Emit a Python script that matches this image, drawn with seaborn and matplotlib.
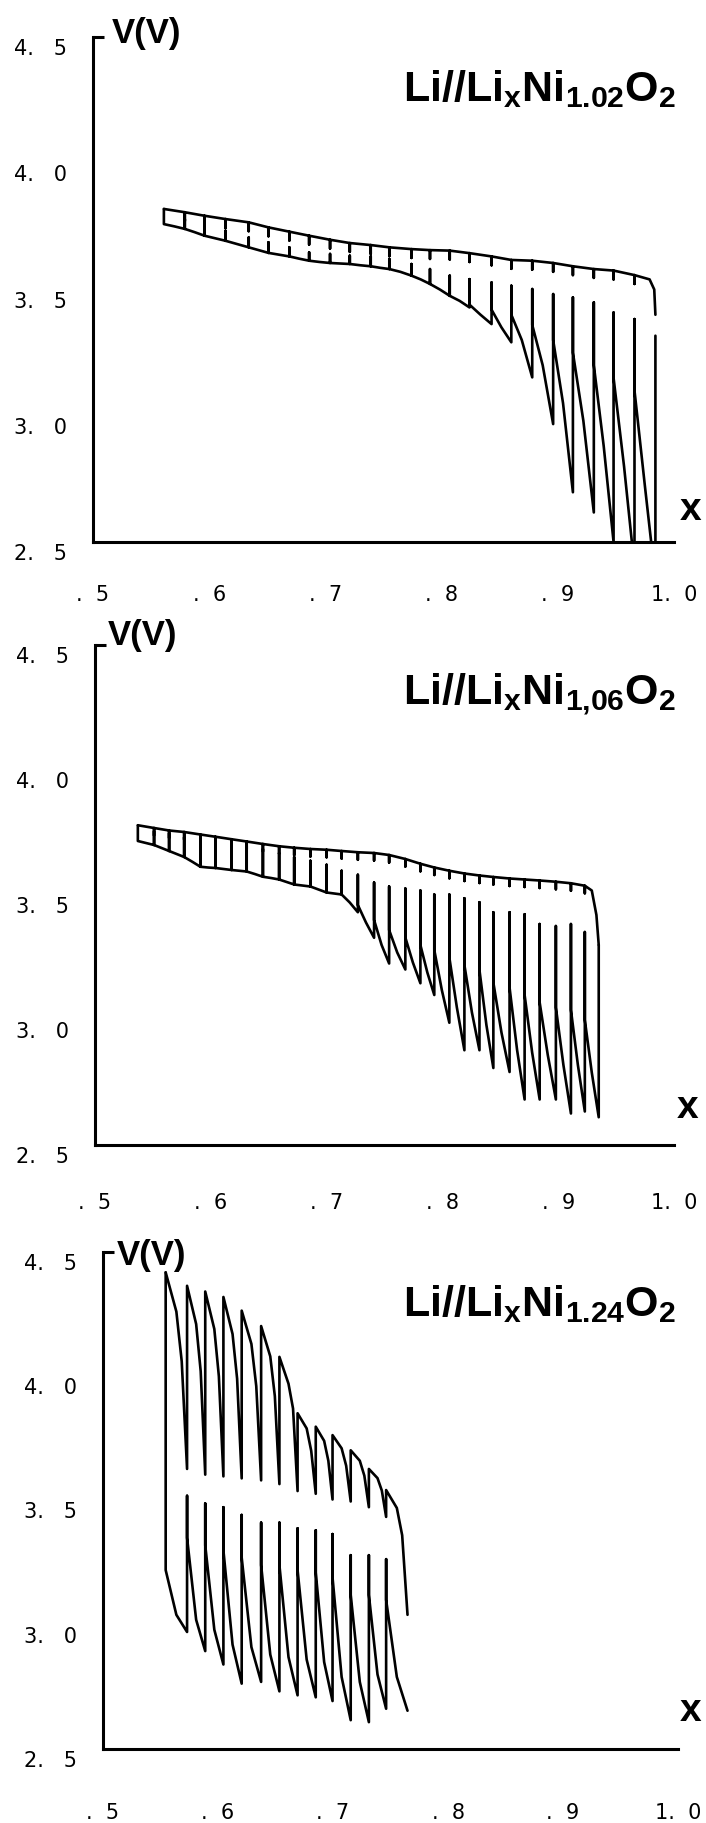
import numpy as np
import pandas as pd
import matplotlib
matplotlib.use("Agg")
import matplotlib.pyplot as plt
import seaborn as sns
from matplotlib.ticker import MultipleLocator, FixedLocator
from matplotlib.transforms import ScaledTranslation

# ---------------- data ----------------
# Panel 1 : Li//LixNi1.02O2
p1_x = [0.561, 0.579, 0.596, 0.614, 0.634, 0.651, 0.669, 0.686, 0.704, 0.721, 0.739, 0.755,
        0.774, 0.790, 0.807, 0.824, 0.843, 0.860, 0.878, 0.896, 0.913, 0.931, 0.948, 0.966, 0.984]
p1_chg_top = [3.819, 3.806, 3.792, 3.779, 3.766, 3.746, 3.729, 3.713, 3.697, 3.684, 3.676, 3.667,
              3.660, 3.656, 3.654, 3.644, 3.631, 3.617, 3.614, 3.605, 3.592, 3.581, 3.575, 3.557]
p1_chg_relax = [3.771, 3.757, 3.744, 3.731, 3.711, 3.694, 3.678, 3.662, 3.649, 3.641, 3.632, 3.625,
                3.621, 3.619, 3.609, 3.596, 3.582, 3.579, 3.570, 3.557, 3.546, 3.540, 3.522]
p1_chg_tail_x = [0.979, 0.983, 0.984]
p1_chg_tail_v = [3.54, 3.50, 3.40]
p1_dis_top = [3.819, 3.779, 3.753, 3.733, 3.706, 3.687, 3.667, 3.647, 3.641, 3.634, 3.631, 3.621,
              3.601, 3.581, 3.555, 3.541, 3.528, 3.515, 3.502, 3.482, 3.469, 3.449, 3.409, 3.383, 3.317]
p1_dis_start = [3.759, 3.740, 3.713, 3.693, 3.667, 3.645, 3.631, 3.614, 3.605, 3.601, 3.592, 3.581,
                3.555, 3.522, 3.475, 3.44, 3.42, 3.40, 3.36, 3.30, 3.25, 3.20, 3.15, 3.10]
p1_dis_mid = [3.750, 3.727, 3.703, 3.680, 3.656, 3.638, 3.622, 3.609, 3.603, 3.596, 3.586, 3.570,
              3.540, 3.500, 3.455, 3.40, 3.35, 3.30, 3.20, 3.05, 2.98, 2.88, 2.80, 2.72]
p1_dis_end = [3.740, 3.713, 3.693, 3.667, 3.645, 3.631, 3.614, 3.605, 3.601, 3.592, 3.581, 3.555,
              3.522, 3.475, 3.429, 3.363, 3.291, 3.152, 2.967, 2.697, 2.617, 2.50, 2.40, 2.35]

# Panel 2 : Li//LixNi1,06O2
p2_x = [0.537, 0.551, 0.564, 0.577, 0.591, 0.604, 0.618, 0.631, 0.645, 0.659, 0.672, 0.686,
        0.700, 0.713, 0.727, 0.741, 0.754, 0.768, 0.781, 0.793, 0.806, 0.819, 0.832, 0.844,
        0.858, 0.871, 0.884, 0.898, 0.911, 0.923, 0.935]
p2_chg_top = [3.779, 3.768, 3.758, 3.752, 3.742, 3.733, 3.723, 3.714, 3.704, 3.695, 3.689, 3.684,
              3.681, 3.676, 3.671, 3.668, 3.660, 3.644, 3.625, 3.610, 3.597, 3.586, 3.578, 3.572,
              3.566, 3.562, 3.558, 3.553, 3.547, 3.537]
p2_chg_relax = [3.738, 3.728, 3.722, 3.712, 3.703, 3.693, 3.684, 3.674, 3.665, 3.659, 3.654,
                3.651, 3.646, 3.641, 3.638, 3.630, 3.614, 3.595, 3.580, 3.567, 3.556, 3.548,
                3.542, 3.536, 3.532, 3.528, 3.523, 3.517, 3.507]
p2_chg_tail_x = [0.929, 0.933, 0.935]
p2_chg_tail_v = [3.518, 3.42, 3.30]
p2_dis_top = [3.779, 3.755, 3.747, 3.731, 3.723, 3.715, 3.704, 3.695, 3.684, 3.668, 3.652, 3.637,
              3.621, 3.597, 3.581, 3.550, 3.534, 3.526, 3.518, 3.502, 3.502, 3.487, 3.471, 3.431,
              3.431, 3.423, 3.384, 3.376, 3.384, 3.352, 3.30]
p2_dis_start = [3.716, 3.700, 3.676, 3.652, 3.613, 3.608, 3.600, 3.594, 3.573, 3.562, 3.542, 3.534,
                3.510, 3.502, 3.46, 3.40, 3.36, 3.33, 3.30, 3.28, 3.25, 3.22, 3.20, 3.15, 3.13,
                3.10, 3.07, 3.05, 3.04, 3.00]
p2_dis_mid = [3.708, 3.688, 3.664, 3.633, 3.610, 3.604, 3.597, 3.584, 3.568, 3.552, 3.538, 3.522,
              3.506, 3.47, 3.39, 3.30, 3.27, 3.23, 3.19, 3.12, 3.05, 3.03, 2.98, 2.95, 2.88, 2.87,
              2.86, 2.82, 2.82, 2.79]
p2_dis_end = [3.700, 3.676, 3.652, 3.613, 3.608, 3.600, 3.594, 3.573, 3.562, 3.542, 3.534, 3.510,
              3.502, 3.431, 3.329, 3.226, 3.202, 3.147, 3.100, 2.989, 2.879, 2.879, 2.808, 2.792,
              2.682, 2.682, 2.682, 2.626, 2.634, 2.611]

# Panel 3 : Li//LixNi1.24O2
p3_x = [0.5545, 0.5731, 0.5889, 0.6047, 0.6206, 0.6375, 0.6534, 0.6692, 0.6850, 0.6996,
        0.7154, 0.7312, 0.7462, 0.7648]
p3_chg_peak = [4.418, 4.364, 4.341, 4.319, 4.264, 4.202, 4.078, 3.851, 3.797, 3.763, 3.702, 3.627, 3.542]
p3_chg_half = [4.26, 4.21, 4.19, 4.17, 4.13, 4.08, 3.97, 3.79, 3.74, 3.71, 3.66, 3.59, 3.47]
p3_chg_3q = [4.06, 4.02, 4.00, 3.99, 3.96, 3.92, 3.87, 3.70, 3.66, 3.64, 3.60, 3.54, 3.36]
p3_chg_relax = [3.627, 3.604, 3.597, 3.589, 3.581, 3.566, 3.538, 3.527, 3.504, 3.496, 3.473, 3.434]
p3_chg_start = 3.04
p3_dis_top = [4.418, 3.519, 3.488, 3.473, 3.442, 3.411, 3.411, 3.388, 3.380, 3.365, 3.280, 3.280, 3.264]
p3_dis_start = [3.22, 3.35, 3.32, 3.30, 3.27, 3.24, 3.24, 3.22, 3.21, 3.19, 3.12, 3.12, 3.10]
p3_dis_mid = [3.04, 3.02, 2.98, 2.92, 2.91, 2.88, 2.87, 2.86, 2.85, 2.79, 2.77, 2.80, 2.79]
p3_dis_end = [2.971, 2.894, 2.840, 2.763, 2.770, 2.732, 2.716, 2.708, 2.693, 2.616, 2.608, 2.662, 2.654]

y_ticks = [2.5, 3.0, 3.5, 4.0, 4.5]
y_tick_labels = ["2.   5", "3.   0", "3.   5", "4.   0", "4.   5"]
x_ticks = [0.5, 0.6, 0.7, 0.8, 0.9, 1.0]
x_tick_labels = [".  5", ".  6", ".  7", ".  8", ".  9", "1.  0"]
titles = [r"$\mathrm{Li//Li_xNi_{1.02}O_2}$",
          r"$\mathrm{Li//Li_xNi_{1{,}06}O_2}$",
          r"$\mathrm{Li//Li_xNi_{1.24}O_2}$"]


# ---------------- polyline builders ----------------
def charge_hooks(x, top, relax, tail_x, tail_v):
    xs, vs = [x[0]], [top[0]]
    for i in range(1, len(top)):
        xs += [x[i], x[i], x[i]]
        vs += [top[i], relax[i - 1], top[i]]
    xs += list(tail_x)
    vs += list(tail_v)
    return pd.DataFrame({"x": xs, "V": vs})


def charge_peaks(x, peak, half, q3, relax, start):
    xs, vs = [], []
    n = len(peak)
    for i in range(n):
        xs += [x[i]]
        vs += [peak[i]]
        x0, x1 = x[i], x[i + 1]
        xs += [(x0 + x1) / 2, x0 + 0.75 * (x1 - x0), x1]
        vs += [half[i], q3[i], relax[i] if i < n - 1 else start]
    return pd.DataFrame({"x": xs, "V": vs})


def discharge(x, top, start, mid, end):
    xs, vs = [], []
    for i in range(len(start)):
        xs += [x[i], x[i], (x[i] + x[i + 1]) / 2, x[i + 1]]
        vs += [top[i], start[i], mid[i], end[i]]
    if len(top) > len(start):
        xs.append(x[len(start)])
        vs.append(top[len(start)])
    return pd.DataFrame({"x": xs, "V": vs})


# ---------------- figure ----------------
sns.set_theme(style="white")
plt.rcParams["font.family"] = ["DejaVu Sans"]
plt.rcParams["text.color"] = "black"
plt.rcParams["axes.labelcolor"] = "black"
plt.rcParams["xtick.color"] = "black"
plt.rcParams["ytick.color"] = "black"
plt.rcParams["mathtext.fontset"] = "custom"
plt.rcParams["mathtext.rm"] = "Liberation Sans:bold"
plt.rcParams["mathtext.it"] = "Liberation Sans:bold"
plt.rcParams["mathtext.bf"] = "Liberation Sans:bold"

W, H = 706, 1824
fig = plt.figure(figsize=(W / 100, H / 100), dpi=100)
fig.patch.set_facecolor("white")

# panel geometry in pixels: left, top, right, bottom
boxes = [(93, 38, 674, 543), (95, 646, 674, 1146), (103, 1253, 678, 1750)]
xlab_pad = [30, 33.5, 38]
vv_pos = [(112, 33), (108, 636), (117, 1255)]
xl_pos = [(691, 510), (688, 1108), (691, 1711)]
title_base = [101, 704, 1316]

curves = [
    [charge_hooks(p1_x, p1_chg_top, p1_chg_relax, p1_chg_tail_x, p1_chg_tail_v),
     discharge(p1_x, p1_dis_top, p1_dis_start, p1_dis_mid, p1_dis_end)],
    [charge_hooks(p2_x, p2_chg_top, p2_chg_relax, p2_chg_tail_x, p2_chg_tail_v),
     discharge(p2_x, p2_dis_top, p2_dis_start, p2_dis_mid, p2_dis_end)],
    [charge_peaks(p3_x, p3_chg_peak, p3_chg_half, p3_chg_3q, p3_chg_relax, p3_chg_start),
     discharge(p3_x, p3_dis_top, p3_dis_start, p3_dis_mid, p3_dis_end)],
]

down = ScaledTranslation(0, -9 / 100, fig.dpi_scale_trans)

for k, (l, t, r, b) in enumerate(boxes):
    ax = fig.add_axes([l / W, 1 - b / H, (r - l) / W, (b - t) / H])
    ax.set_facecolor("white")
    for df in curves[k]:
        sns.lineplot(data=df, x="x", y="V", sort=False, estimator=None,
                     color="black", linewidth=1.9, ax=ax)
    for ln in ax.lines:
        ln.set_solid_joinstyle("round")
        ln.set_solid_capstyle("round")
    ax.set_xlim(0.5, 1.0)
    ax.set_ylim(2.5, 4.5)
    ax.set_xlabel("")
    ax.set_ylabel("")
    for s in ["top", "right"]:
        ax.spines[s].set_visible(False)
    for s in ["left", "bottom"]:
        ax.spines[s].set_linewidth(2.2)
        ax.spines[s].set_color("black")

    ax.xaxis.set_major_locator(FixedLocator(x_ticks))
    ax.xaxis.set_minor_locator(MultipleLocator(0.02))
    ax.yaxis.set_major_locator(FixedLocator(y_ticks))
    ax.yaxis.set_minor_locator(MultipleLocator(0.1))
    ax.set_xticklabels(x_tick_labels)
    ax.set_yticklabels(y_tick_labels)
    ax.tick_params(axis="x", which="major", direction="in", length=8.6, width=1.6,
                   color="black", pad=xlab_pad[k], labelsize=15, labelcolor="black")
    ax.tick_params(axis="x", which="minor", direction="in", length=4.3, width=1.6, color="black")
    ax.tick_params(axis="y", which="both", direction="in", length=3.6, width=1.6,
                   color="black", pad=18.7, labelsize=15, labelcolor="black")
    for lab in ax.get_yticklabels():
        lab.set_transform(lab.get_transform() + down)
    # the short horizontal cap at the top of the V axis
    ax.plot([0, 11 / (r - l)], [1, 1], transform=ax.transAxes, color="black",
            lw=2.2, clip_on=False, solid_capstyle="butt")

    fig.text(vv_pos[k][0] / W, 1 - vv_pos[k][1] / H, "V(V)", fontfamily="Liberation Sans",
             fontweight="bold", fontsize=25, ha="left", va="center", color="black")
    fig.text(xl_pos[k][0] / W, 1 - xl_pos[k][1] / H, "x", fontfamily="Liberation Sans",
             fontweight="bold", fontsize=28, ha="center", va="center", color="black")
    fig.text(676 / W, 1 - title_base[k] / H, titles[k], fontsize=31,
             ha="right", va="baseline", color="black")

fig.savefig("out.png", dpi=100, facecolor="white")
